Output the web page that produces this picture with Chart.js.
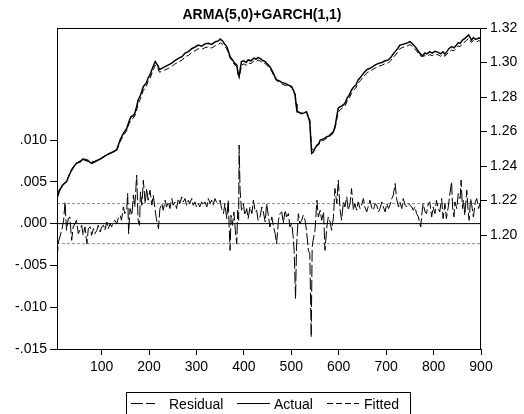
<!DOCTYPE html>
<html lang="en">
<head>
<meta charset="UTF-8">
<title>ARMA(5,0)+GARCH(1,1)</title>
<script src="https://cdn.jsdelivr.net/npm/chart.js"></script>
<style>
  body { margin: 0; background: #fff; }
  canvas { display: block; }
</style>
</head>
<body>
<canvas id="resid-chart" width="524" height="414"></canvas>
<script>
// observation numbers used for the actual / fitted series
const obsAF = [
  6, 12, 18, 26, 32, 37, 42, 47, 55, 60,
  65, 72, 79, 86, 93, 100, 106, 112, 118, 125,
  132, 139, 146, 153, 158, 162, 166, 170, 174, 177,
  182, 188, 194, 198, 202, 207, 213, 218, 222, 227,
  233, 241, 247, 254, 262, 270, 276, 283, 290, 297,
  304, 311, 318, 325, 332, 340, 346, 350, 355, 360,
  364, 368, 371, 376, 381, 385, 388, 390, 393, 395,
  400, 405, 409, 415, 421, 426, 430, 436, 441, 445,
  450, 455, 460, 465, 469, 474, 480, 487, 493, 497,
  501, 505, 508, 510, 512, 516, 522, 527, 532, 535,
  539, 541, 543, 546, 550, 554, 558, 561, 566, 570,
  575, 580, 585, 589, 593, 596, 599, 603, 608, 613,
  618, 622, 627, 632, 636, 641, 646, 650, 655, 660,
  665, 671, 677, 684, 691, 698, 705, 710, 715, 719,
  724, 729, 735, 741, 746, 750, 755, 760, 764, 768,
  772, 776, 778, 782, 786, 792, 797, 803, 810, 815,
  820, 824, 828, 832, 838, 843, 848, 852, 856, 861,
  866, 870, 874, 877, 880, 884, 888, 891, 895, 900
];

const actual = [
  1.2214, 1.2262, 1.2290, 1.2309, 1.2350, 1.2377, 1.2398, 1.2416, 1.2425, 1.2440,
  1.2435, 1.2428, 1.2416, 1.2425, 1.2435, 1.2445, 1.2456, 1.2466, 1.2474, 1.2483,
  1.2495, 1.2551, 1.2590, 1.2618, 1.2660, 1.2686, 1.2690, 1.2705, 1.2745, 1.2783,
  1.2810, 1.2860, 1.2880, 1.2910, 1.2928, 1.2965, 1.3005, 1.2985, 1.2960, 1.2966,
  1.2975, 1.2986, 1.2995, 1.3010, 1.3024, 1.3035, 1.3055, 1.3063, 1.3080, 1.3090,
  1.3101, 1.3095, 1.3108, 1.3111, 1.3105, 1.3120, 1.3125, 1.3136, 1.3125, 1.3105,
  1.3092, 1.3060, 1.3034, 1.3015, 1.2995, 1.2986, 1.2935, 1.2918, 1.2975, 1.3005,
  1.3010, 1.3000, 1.3015, 1.3010, 1.3025, 1.3020, 1.3030, 1.3020, 1.3010, 1.3005,
  1.2990, 1.2976, 1.2950, 1.2920, 1.2899, 1.2895, 1.2885, 1.2879, 1.2870, 1.2866,
  1.2860, 1.2835, 1.2812, 1.2760, 1.2715, 1.2712, 1.2705, 1.2708, 1.2715, 1.2690,
  1.2657, 1.2560, 1.2474, 1.2480, 1.2502, 1.2520, 1.2530, 1.2551, 1.2555, 1.2560,
  1.2570, 1.2575, 1.2590, 1.2600, 1.2640, 1.2690, 1.2735, 1.2744, 1.2750, 1.2763,
  1.2795, 1.2810, 1.2841, 1.2860, 1.2870, 1.2899, 1.2915, 1.2930, 1.2947, 1.2960,
  1.2965, 1.2975, 1.2986, 1.2995, 1.3000, 1.3010, 1.3015, 1.3030, 1.3050, 1.3063,
  1.3080, 1.3101, 1.3105, 1.3110, 1.3115, 1.3121, 1.3110, 1.3095, 1.3082, 1.3065,
  1.3050, 1.3040, 1.3043, 1.3055, 1.3050, 1.3063, 1.3055, 1.3065, 1.3059, 1.3050,
  1.3062, 1.3048, 1.3063, 1.3080, 1.3092, 1.3085, 1.3100, 1.3115, 1.3111, 1.3130,
  1.3140, 1.3150, 1.3160, 1.3145, 1.3130, 1.3145, 1.3135, 1.3136, 1.3142, 1.3140
];

const fitted = [
  1.2240, 1.2268, 1.2292, 1.2312, 1.2348, 1.2382, 1.2402, 1.2418, 1.2430, 1.2442,
  1.2440, 1.2434, 1.2424, 1.2428, 1.2438, 1.2448, 1.2458, 1.2466, 1.2474, 1.2482,
  1.2492, 1.2540, 1.2578, 1.2605, 1.2645, 1.2668, 1.2676, 1.2690, 1.2725, 1.2760,
  1.2790, 1.2838, 1.2860, 1.2890, 1.2906, 1.2945, 1.2984, 1.2970, 1.2944, 1.2948,
  1.2956, 1.2966, 1.2975, 1.2990, 1.3003, 1.3014, 1.3034, 1.3041, 1.3058, 1.3068,
  1.3080, 1.3076, 1.3086, 1.3090, 1.3084, 1.3098, 1.3103, 1.3114, 1.3106, 1.3090,
  1.3080, 1.3050, 1.3026, 1.3005, 1.2985, 1.2978, 1.2930, 1.2920, 1.2950, 1.2985,
  1.2992, 1.2984, 1.2998, 1.2994, 1.3008, 1.3004, 1.3014, 1.3006, 1.2998, 1.2994,
  1.2980, 1.2966, 1.2942, 1.2914, 1.2895, 1.2888, 1.2876, 1.2868, 1.2862, 1.2860,
  1.2856, 1.2836, 1.2820, 1.2770, 1.2722, 1.2712, 1.2702, 1.2704, 1.2716, 1.2696,
  1.2668, 1.2580, 1.2500, 1.2496, 1.2508, 1.2516, 1.2524, 1.2542, 1.2548, 1.2552,
  1.2562, 1.2568, 1.2582, 1.2592, 1.2628, 1.2672, 1.2712, 1.2726, 1.2736, 1.2746,
  1.2776, 1.2792, 1.2822, 1.2842, 1.2852, 1.2880, 1.2896, 1.2910, 1.2928, 1.2942,
  1.2948, 1.2958, 1.2968, 1.2978, 1.2984, 1.2994, 1.2998, 1.3012, 1.3032, 1.3040,
  1.3060, 1.3080, 1.3088, 1.3092, 1.3098, 1.3104, 1.3094, 1.3080, 1.3068, 1.3052,
  1.3040, 1.3034, 1.3036, 1.3040, 1.3036, 1.3046, 1.3040, 1.3048, 1.3044, 1.3036,
  1.3046, 1.3036, 1.3048, 1.3062, 1.3072, 1.3068, 1.3082, 1.3096, 1.3092, 1.3110,
  1.3120, 1.3130, 1.3140, 1.3128, 1.3116, 1.3128, 1.3120, 1.3120, 1.3126, 1.3124
];

// residual series (left axis)
const obsRes = [
  6, 9, 12, 16, 20, 23, 26, 30, 33, 37, 40, 44, 47, 51, 54, 58, 61, 65, 69, 72,
  76, 79, 83, 86, 90, 93, 97, 100, 104, 107, 111, 114, 118, 121, 125, 128, 132, 135, 139, 142,
  146, 149, 153, 155, 157, 160, 164, 167, 170, 174, 177, 180, 182, 185, 188, 192, 195, 198, 202, 206,
  209, 213, 216, 220, 223, 227, 230, 234, 237, 241, 244, 248, 251, 255, 258, 262, 265, 269, 272, 276,
  279, 283, 286, 290, 293, 297, 300, 304, 307, 311, 314, 318, 322, 325, 329, 332, 335, 339, 342, 346,
  350, 353, 357, 360, 364, 367, 369, 371, 373, 376, 379, 382, 385, 387, 389, 390, 392, 395, 399, 402,
  406, 409, 413, 417, 420, 424, 427, 430, 434, 438, 441, 445, 448, 452, 455, 459, 462, 466, 469, 473,
  476, 480, 483, 487, 490, 494, 497, 501, 504, 506, 509, 511, 515, 518, 522, 525, 529, 532, 536, 539,
  542, 544, 546, 550, 554, 557, 561, 564, 568, 571, 575, 578, 582, 585, 589, 592, 596, 599, 603, 606,
  610, 613, 617, 620, 624, 627, 631, 634, 638, 641, 645, 648, 652, 655, 659, 662, 666, 670, 673, 677,
  680, 684, 687, 691, 694, 698, 701, 705, 708, 712, 715, 719, 722, 726, 729, 733, 736, 740, 743, 747,
  750, 754, 757, 761, 764, 768, 770, 773, 775, 778, 782, 785, 789, 792, 796, 799, 803, 806, 810, 813,
  817, 820, 824, 827, 831, 834, 838, 840, 843, 845, 849, 852, 856, 858, 861, 863, 866, 870, 873, 875,
  878, 880, 884, 888, 891, 895, 898, 900
];

const resid = [
  -0.0042, -0.0022, -0.0016, -0.0008, 0.0004, 0.0026, -0.0008, 0.0006, 0.0008, -0.0020,
  -0.0004, 0.0000, 0.0004, -0.0012, -0.0008, -0.0002, -0.0014, -0.0004, -0.0024, -0.0006,
  -0.0004, -0.0014, -0.0006, -0.0012, -0.0008, -0.0002, -0.0010, -0.0004, -0.0002, -0.0008,
  0.0002, -0.0006, 0.0000, -0.0004, 0.0002, 0.0004, 0.0000, 0.0006, 0.0010, 0.0004,
  0.0020, 0.0012, 0.0016, 0.0036, -0.0012, 0.0018, 0.0010, 0.0034, 0.0020, 0.0058,
  0.0004, -0.0002, 0.0038, 0.0022, 0.0052, 0.0024, 0.0042, 0.0028, 0.0040, 0.0022,
  0.0034, 0.0016, 0.0004, -0.0006, 0.0018, 0.0024, 0.0016, 0.0028, 0.0020, 0.0026,
  0.0018, 0.0030, 0.0022, 0.0026, 0.0018, 0.0030, 0.0024, 0.0032, 0.0026, 0.0030,
  0.0022, 0.0028, 0.0024, 0.0030, 0.0022, 0.0026, 0.0020, 0.0024, 0.0020, 0.0026,
  0.0022, 0.0026, 0.0020, 0.0030, 0.0024, 0.0028, 0.0022, 0.0030, 0.0026, 0.0024,
  0.0028, 0.0018, 0.0012, 0.0024, 0.0006, 0.0028, -0.0004, -0.0032, 0.0010, -0.0002,
  0.0014, -0.0008, -0.0024, 0.0016, 0.0004, 0.0094, 0.0040, 0.0016, 0.0024, 0.0010,
  0.0018, 0.0006, 0.0020, 0.0012, 0.0028, 0.0014, 0.0016, 0.0004, 0.0008, 0.0020,
  0.0014, 0.0002, 0.0024, 0.0008, -0.0004, 0.0008, -0.0002, -0.0012, -0.0024, 0.0004,
  0.0012, 0.0014, 0.0000, 0.0016, 0.0008, 0.0012, -0.0004, 0.0000, -0.0016, -0.0032,
  -0.0090, -0.0028, 0.0012, 0.0000, 0.0004, 0.0010, 0.0004, -0.0008, -0.0032, -0.0036,
  -0.0136, -0.0028, -0.0020, -0.0008, 0.0028, 0.0008, 0.0016, 0.0004, 0.0014, -0.0032,
  -0.0004, 0.0008, 0.0002, -0.0008, 0.0008, 0.0042, 0.0024, 0.0052, 0.0016, 0.0004,
  0.0026, 0.0020, 0.0032, 0.0016, 0.0024, 0.0042, 0.0016, 0.0024, 0.0016, 0.0026,
  0.0018, 0.0022, 0.0030, 0.0020, 0.0014, 0.0020, 0.0028, 0.0018, 0.0016, 0.0024,
  0.0022, 0.0014, 0.0018, 0.0026, 0.0020, 0.0014, 0.0024, 0.0018, 0.0022, 0.0030,
  0.0034, 0.0048, 0.0030, 0.0020, 0.0026, 0.0018, 0.0030, 0.0022, 0.0020, 0.0024,
  0.0022, 0.0020, 0.0016, 0.0020, 0.0012, 0.0008, 0.0002, -0.0004, 0.0010, 0.0024,
  0.0014, 0.0012, 0.0024, 0.0026, 0.0008, 0.0020, 0.0012, 0.0028, 0.0018, 0.0014,
  0.0030, 0.0006, 0.0024, 0.0006, 0.0020, 0.0034, 0.0050, 0.0020, 0.0008, 0.0026,
  0.0018, 0.0036, 0.0030, 0.0052, 0.0018, 0.0028, 0.0010, 0.0040, 0.0014, 0.0004,
  0.0030, 0.0024, 0.0008, 0.0026, 0.0030, 0.0018, 0.0024, 0.0022
];

// one standard error band of the residuals
const residSD = 0.0024;

const xTicks = [100, 200, 300, 400, 500, 600, 700, 800, 900];
const resTicks = [-0.015, -0.010, -0.005, 0.000, 0.005, 0.010];
const levelTicks = [1.20, 1.22, 1.24, 1.26, 1.28, 1.30, 1.32];

const xMin = 6, xMax = 900;

const FONT = "Arial, 'Liberation Sans', sans-serif";
Chart.defaults.font.family = FONT;
Chart.defaults.font.size = 14;
Chart.defaults.color = "#000";

const toPoints = (xs, ys) => xs.map((x, i) => ({ x: x, y: ys[i] }));
const flat = (v) => [{ x: xMin, y: v }, { x: xMax, y: v }];

const fmtRes = (v) => {
  let s = Math.abs(v).toFixed(3).replace(/^0/, "");
  return v < -1e-9 ? "-" + s : s;
};

// frame around the plot plus the boxed legend underneath
const framePlugin = {
  id: "frame",
  afterDraw(chart) {
    const c = chart.ctx, a = chart.chartArea;
    c.save();
    c.strokeStyle = "#000";
    c.lineWidth = 1;
    c.setLineDash([]);
    c.strokeRect(Math.round(a.left) + 0.5, Math.round(a.top) + 0.5,
                 Math.round(a.right - a.left) - 1, Math.round(a.bottom - a.top));

    // legend
    c.strokeRect(126.5, 392.5, 284, 30);
    const y = 403.5;
    const items = [
      { text: "Residual", dash: [12, 3], w: 1, x0: 131, x1: 155, tx: 169 },
      { text: "Actual", dash: [], w: 1, x0: 237, x1: 270, tx: 274 },
      { text: "Fitted", dash: [6, 3], w: 1, x0: 327, x1: 359, tx: 364 }
    ];
    c.font = "14px " + FONT;
    c.fillStyle = "#000";
    c.textBaseline = "alphabetic";
    items.forEach(it => {
      c.setLineDash(it.dash);
      c.lineWidth = it.w;
      c.beginPath();
      c.moveTo(it.x0, y);
      c.lineTo(it.x1, y);
      c.stroke();
      c.fillText(it.text, it.tx, 409);
    });
    c.restore();
  }
};

const tickGrid = (len) => ({
  display: true,
  drawOnChartArea: false,
  drawTicks: true,
  tickLength: len,
  color: "#000",
  lineWidth: 1
});

new Chart(document.getElementById("resid-chart"), {
  type: "line",
  data: {
    datasets: [
      { label: "Actual", data: toPoints(obsAF, actual), yAxisID: "yLvl",
        borderColor: "#000", borderWidth: 1.5 },
      { label: "Fitted", data: toPoints(obsAF, fitted), yAxisID: "yLvl",
        borderColor: "#000", borderWidth: 1, borderDash: [6, 3] },
      { label: "Residual", data: toPoints(obsRes, resid), yAxisID: "yRes",
        borderColor: "#000", borderWidth: 1, borderDash: [12, 3] },
      { label: "zero", data: flat(0), yAxisID: "yRes",
        borderColor: "#000", borderWidth: 1 },
      { label: "+sd", data: flat(residSD), yAxisID: "yRes",
        borderColor: "#8a8a8a", borderWidth: 1, borderDash: [3, 2] },
      { label: "-sd", data: flat(-residSD), yAxisID: "yRes",
        borderColor: "#8a8a8a", borderWidth: 1, borderDash: [3, 2] }
    ]
  },
  options: {
    responsive: false,
    animation: false,
    events: [],
    elements: {
      point: { radius: 0 },
      line: { tension: 0, fill: false, borderCapStyle: "butt" }
    },
    layout: { padding: 0 },
    plugins: {
      legend: { display: false },
      tooltip: { enabled: false },
      title: {
        display: true,
        text: "ARMA(5,0)+GARCH(1,1)",
        color: "#000",
        font: { size: 14, weight: "bold", family: FONT },
        padding: { top: 7, bottom: 4.2 }
      }
    },
    scales: {
      x: {
        type: "linear",
        position: "bottom",
        min: xMin,
        max: xMax,
        afterBuildTicks: (ax) => { ax.ticks = xTicks.map(v => ({ value: v })); },
        afterFit: (ax) => { ax.height = 65; },
        grid: tickGrid(6),
        border: { display: false },
        ticks: { autoSkip: false, maxRotation: 0, padding: 4, callback: (v) => String(v) }
      },
      yRes: {
        type: "linear",
        position: "left",
        min: -0.015,
        max: 0.0234,
        afterBuildTicks: (ax) => { ax.ticks = resTicks.map(v => ({ value: v })); },
        afterFit: (ax) => { ax.width = 57; },
        grid: tickGrid(7),
        border: { display: false },
        ticks: { autoSkip: false, padding: 3, callback: fmtRes }
      },
      yLvl: {
        type: "linear",
        position: "right",
        min: 1.134,
        max: 1.32,
        afterBuildTicks: (ax) => { ax.ticks = levelTicks.map(v => ({ value: v })); },
        afterFit: (ax) => { ax.width = 43; },
        grid: tickGrid(6),
        border: { display: false },
        ticks: { autoSkip: false, padding: 3, callback: (v) => v.toFixed(2) }
      }
    }
  },
  plugins: [framePlugin]
});
</script>
</body>
</html>
